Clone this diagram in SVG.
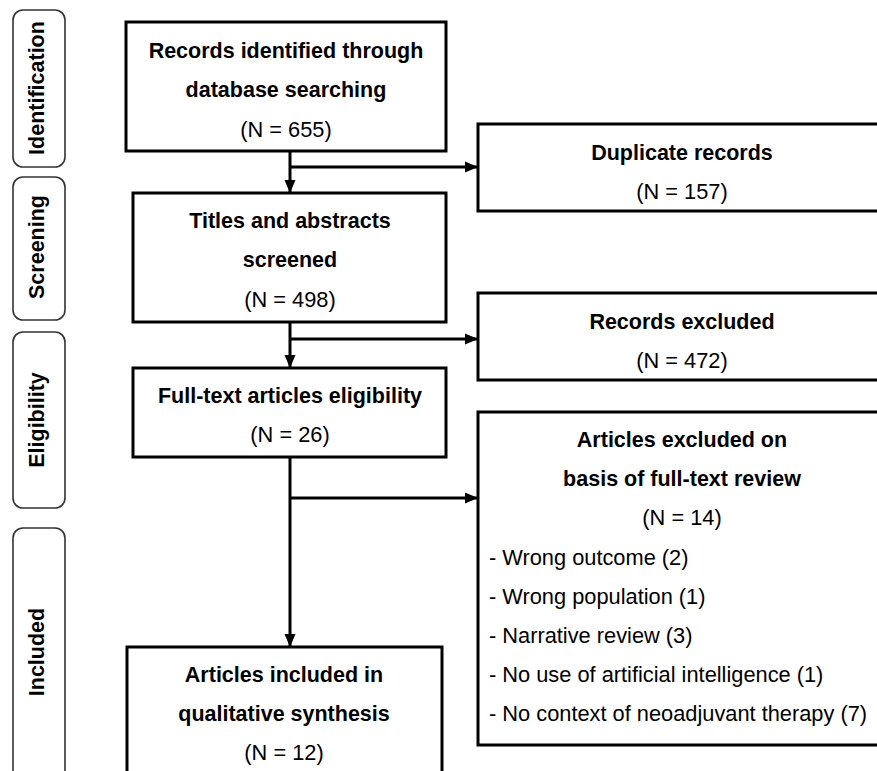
<svg xmlns="http://www.w3.org/2000/svg" width="877" height="771" viewBox="0 0 877 771">
<style>
.box{fill:#fff;stroke:#000;stroke-width:3}
.side{fill:#fff;stroke:#333;stroke-width:1.6}
.b{font-family:"Liberation Sans",Arial,Helvetica,sans-serif;font-weight:bold;font-size:21.5px;fill:#000;text-anchor:middle}
.r{font-family:"Liberation Sans",Arial,Helvetica,sans-serif;font-size:21.8px;fill:#000;text-anchor:middle}
.l{font-family:"Liberation Sans",Arial,Helvetica,sans-serif;font-size:21.8px;fill:#000}
.s{font-family:"Liberation Sans",Arial,Helvetica,sans-serif;font-weight:bold;font-size:21.5px;fill:#000;text-anchor:middle}
.c{stroke:#000;stroke-width:3;fill:none}
</style>
<defs>
<marker id="ah" markerUnits="userSpaceOnUse" markerWidth="13" markerHeight="13" viewBox="0 0 13 13" refX="13" refY="6.5" orient="auto">
<path d="M0,1 L13,6.5 L0,12 Z" fill="#000"/>
</marker>
</defs>
<rect width="877" height="771" fill="#fff"/>
<g id="side-identification">
<rect class="side" x="13" y="10" width="52" height="157" rx="10"/>
<text class="s" transform="translate(44,88) rotate(-90)">Identification</text>
</g>
<g id="side-screening">
<rect class="side" x="13" y="177" width="52" height="143" rx="10"/>
<text class="s" transform="translate(44,247) rotate(-90)">Screening</text>
</g>
<g id="side-eligibility">
<rect class="side" x="13" y="332" width="52" height="176" rx="10"/>
<text class="s" transform="translate(44,420) rotate(-90)">Eligibility</text>
</g>
<g id="side-included">
<rect class="side" x="13" y="528" width="52" height="260" rx="10"/>
<text class="s" transform="translate(44,652) rotate(-90)">Included</text>
</g>
<g id="connectors">
<line class="c" x1="290" y1="151" x2="290" y2="193" marker-end="url(#ah)"/>
<line class="c" x1="290" y1="167" x2="478" y2="167" marker-end="url(#ah)"/>
<line class="c" x1="290" y1="322" x2="290" y2="368" marker-end="url(#ah)"/>
<line class="c" x1="290" y1="339" x2="478" y2="339" marker-end="url(#ah)"/>
<line class="c" x1="290" y1="457" x2="290" y2="647" marker-end="url(#ah)"/>
<line class="c" x1="290" y1="498" x2="478" y2="498" marker-end="url(#ah)"/>
</g>
<g id="records-identified">
<rect class="box" x="126" y="22" width="320" height="129"/>
<text class="b" x="286" y="58">Records identified through</text>
<text class="b" x="286" y="97">database searching</text>
<text class="r" x="286" y="137">(N = 655)</text>
</g>
<g id="titles-screened">
<rect class="box" x="133" y="193" width="313" height="129"/>
<text class="b" x="290" y="228">Titles and abstracts</text>
<text class="b" x="290" y="267">screened</text>
<text class="r" x="290" y="307">(N = 498)</text>
</g>
<g id="full-text">
<rect class="box" x="133" y="368" width="313" height="89"/>
<text class="b" x="290" y="403">Full-text articles eligibility</text>
<text class="r" x="290" y="442">(N = 26)</text>
</g>
<g id="included">
<rect class="box" x="127" y="647" width="315" height="140"/>
<text class="b" x="284" y="682">Articles included in</text>
<text class="b" x="284" y="721">qualitative synthesis</text>
<text class="r" x="284" y="760">(N = 12)</text>
</g>
<g id="duplicates">
<rect class="box" x="478" y="124" width="410" height="87"/>
<text class="b" x="682" y="160">Duplicate records</text>
<text class="r" x="682" y="199">(N = 157)</text>
</g>
<g id="records-excluded">
<rect class="box" x="478" y="293" width="410" height="87"/>
<text class="b" x="682" y="329">Records excluded</text>
<text class="r" x="682" y="368">(N = 472)</text>
</g>
<g id="articles-excluded">
<rect class="box" x="478" y="412" width="410" height="333"/>
<text class="b" x="682" y="447">Articles excluded on</text>
<text class="b" x="682" y="486">basis of full-text review</text>
<text class="r" x="682" y="525">(N = 14)</text>
<text class="l" x="489" y="565">- Wrong outcome (2)</text>
<text class="l" x="489" y="604">- Wrong population (1)</text>
<text class="l" x="489" y="643">- Narrative review (3)</text>
<text class="l" x="489" y="682">- No use of artificial intelligence (1)</text>
<text class="l" x="489" y="721">- No context of neoadjuvant therapy (7)</text>
</g>
</svg>
